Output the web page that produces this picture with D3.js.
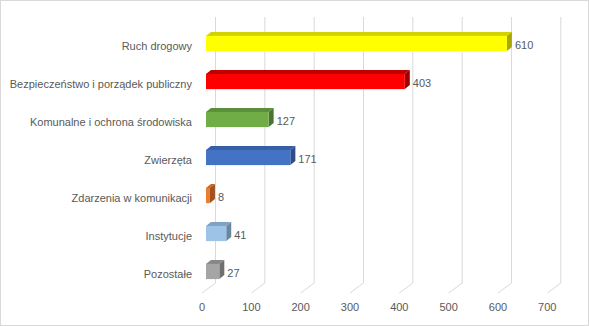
<!DOCTYPE html>
<html>
<head>
<meta charset="utf-8">
<script src="https://cdn.jsdelivr.net/npm/d3@7/dist/d3.min.js"></script>
<style>
  html, body { margin: 0; padding: 0; background: #fff; }
  svg { display: block; }
  text { font-family: "Liberation Sans", Arial, sans-serif; fill: #595959; }
</style>
</head>
<body>
<svg id="chart" width="589" height="326"></svg>
<script>
// Number of reported incidents by category
const categories = [
  "Ruch drogowy",
  "Bezpieczeństwo i porządek publiczny",
  "Komunalne i ochrona środowiska",
  "Zwierzęta",
  "Zdarzenia w komunikacji",
  "Instytucje",
  "Pozostałe"
];
const values = [610, 403, 127, 171, 8, 41, 27];
const tickValues = [0, 100, 200, 300, 400, 500, 600, 700];

// Face colours for each bar: front, top, side
const frontColors = ["#FFFF00", "#FF0000", "#70AD47", "#4472C4", "#ED7D31", "#9DC3E6", "#A5A5A5"];
const topColors   = ["#D2D200", "#C00000", "#5B8E3A", "#375FA6", "#C56526", "#7FA2C2", "#888888"];
const sideColors  = ["#A8A800", "#9A0000", "#4A7530", "#2D4E89", "#A0521F", "#6A879F", "#6F6F6F"];

const svg = d3.select("#chart");
const W = 589, H = 326;

// chart area frame
svg.append("rect")
  .attr("x", 0.5).attr("y", 0.5)
  .attr("width", W - 1).attr("height", H - 1)
  .attr("fill", "#fff").attr("stroke", "#D9D9D9");

// value scale (length along the axis) and category band scale
const x = d3.scaleLinear().domain([0, 700]).range([0, 345.3]);
const y = d3.scaleBand().domain(categories)
  .range([24.5, 290.5]).paddingInner(0.6).paddingOuter(0.3);

// 3D geometry: back wall, front floor edge, and bar plane origins
const backX0 = 215.5, frontX0 = 202, barX0 = 206;
const wallTop = 17, wallBottom = 283, floorFront = 293;
const depthX = 5, depthY = 4;

// gridlines on the back wall, bending forward across the floor
const grid = svg.append("g");
tickValues.forEach(t => {
  const bx = backX0 + x(t), fx = frontX0 + x(t);
  grid.append("path")
    .attr("d", `M${bx},${wallTop} L${bx},${wallBottom} L${fx},${floorFront}`)
    .attr("fill", "none").attr("stroke", "#D9D9D9").attr("stroke-width", 1);
});

// tick labels along the front edge of the floor
svg.append("g").selectAll("text").data(tickValues).join("text")
  .attr("x", t => frontX0 + x(t))
  .attr("y", 307)
  .attr("text-anchor", "middle")
  .attr("dominant-baseline", "central")
  .attr("font-size", 11)
  .text(t => t);

// category labels
svg.append("g").selectAll("text").data(categories).join("text")
  .attr("x", 192)
  .attr("y", c => y(c) + y.bandwidth() / 2 + 2)
  .attr("text-anchor", "end")
  .attr("dominant-baseline", "central")
  .attr("font-size", 11)
  .text(c => c);

// 3D bars: front face, top face and right side face
const bars = svg.append("g").selectAll("g").data(values).join("g");
bars.each(function (v, i) {
  const g = d3.select(this);
  const x0 = barX0, x1 = barX0 + x(v);
  const yt = y(categories[i]), h = y.bandwidth(), yb = yt + h;
  g.append("path")
    .attr("d", `M${x0},${yt} L${x0 + depthX},${yt - depthY} L${x1 + depthX},${yt - depthY} L${x1},${yt} Z`)
    .attr("fill", topColors[i]);
  g.append("path")
    .attr("d", `M${x1},${yt} L${x1 + depthX},${yt - depthY} L${x1 + depthX},${yb - depthY} L${x1},${yb} Z`)
    .attr("fill", sideColors[i]);
  g.append("rect")
    .attr("x", x0).attr("y", yt)
    .attr("width", x1 - x0).attr("height", h)
    .attr("fill", frontColors[i]);
  g.append("text")
    .attr("x", x1 + depthX + 3)
    .attr("y", yt + h / 2 + 1)
    .attr("dominant-baseline", "central")
    .attr("font-size", 11)
    .attr("fill", "#404040")
    .text(v);
});
</script>
</body>
</html>
